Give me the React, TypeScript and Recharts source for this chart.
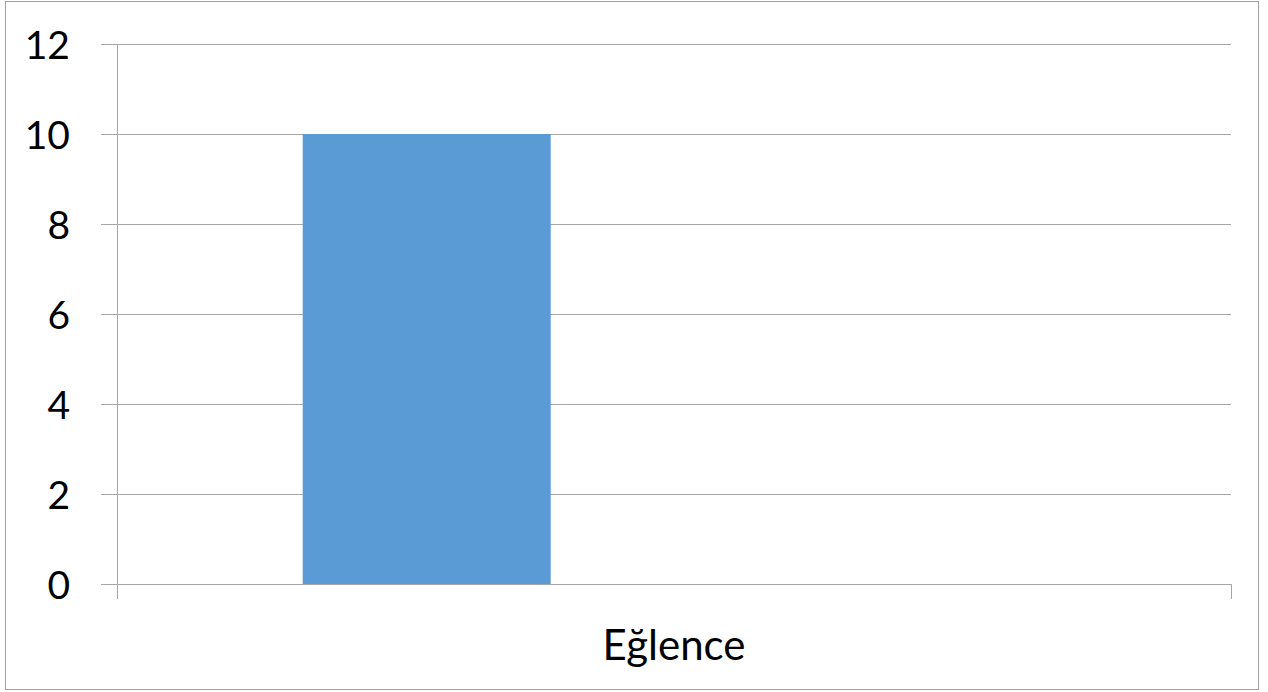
import React from "react";
import { BarChart, Bar, XAxis, YAxis, CartesianGrid } from "recharts";

const categories = ["Eğlence"];
const series1 = [10];
const series2 = [0];
const series3 = [0];
const yTicks = [0, 2, 4, 6, 8, 10, 12];

const data = categories.map((c, i) => ({
  name: c,
  s1: series1[i],
  s2: series2[i],
  s3: series3[i],
}));

const FONT = "Lato, Carlito, Calibri, 'Open Sans', sans-serif";
const GRID = "#a6a6a6";

const YTick = (props: any) => {
  const { x, y, payload } = props;
  return (
    <g>
      <line x1={x - 16} x2={x} y1={y} y2={y} stroke={GRID} strokeWidth={1} shapeRendering="crispEdges" />
      <text x={x - 47} y={y + 14.5} textAnchor="end" fontFamily={FONT} fontSize={39} fill="#000">
        {payload.value}
      </text>
    </g>
  );
};

const XTick = (props: any) => {
  const { x, y, payload, width } = props;
  const half = payload && payload.offset ? payload.offset : width / 2;
  return (
    <g>
      <line x1={x - half} x2={x - half} y1={y} y2={y + 15} stroke={GRID} strokeWidth={1} shapeRendering="crispEdges" />
      <line x1={x + half} x2={x + half} y1={y} y2={y + 15} stroke={GRID} strokeWidth={1} shapeRendering="crispEdges" />
      <text x={x} y={y + 76} textAnchor="middle" fontFamily={FONT} fontSize={42} fill="#000">
        {payload.value}
      </text>
    </g>
  );
};

export default function App() {
  return (
    <div
      style={{
        position: "absolute",
        left: 0,
        top: 0,
        width: 1268,
        height: 692,
        background: "#fff",
      }}
    >
      <div
        style={{
          position: "absolute",
          left: 5,
          top: 1,
          width: 1254,
          height: 689,
          border: "1px solid #a0a0a0",
          boxSizing: "border-box",
        }}
      />
      <div style={{ position: "absolute", left: 0, top: 0 }}>
        <BarChart
          width={1268}
          height={692}
          data={data}
          margin={{ top: 44, right: 37, bottom: 0, left: 0 }}
          barGap={0}
          barCategoryGap="16.67%"
        >
          <CartesianGrid horizontal={true} vertical={false} stroke={GRID} strokeWidth={1} shapeRendering="crispEdges" />
          <XAxis
            dataKey="name"
            axisLine={{ stroke: GRID, strokeWidth: 1, shapeRendering: "crispEdges" }}
            tickLine={false}
            tickSize={0}
            tickMargin={0}
            tick={<XTick />}
            height={108}
            interval={0}
          />
          <YAxis
            type="number"
            domain={[0, 12]}
            ticks={yTicks}
            width={117}
            axisLine={{ stroke: GRID, strokeWidth: 1, shapeRendering: "crispEdges" }}
            tickLine={false}
            tickSize={0}
            tickMargin={0}
            tick={<YTick />}
            interval={0}
          />
          <Bar dataKey="s1" fill="#5b9bd5" isAnimationActive={false} />
          <Bar dataKey="s2" fill="#ed7d31" isAnimationActive={false} />
          <Bar dataKey="s3" fill="#a5a5a5" isAnimationActive={false} />
        </BarChart>
      </div>
    </div>
  );
}
